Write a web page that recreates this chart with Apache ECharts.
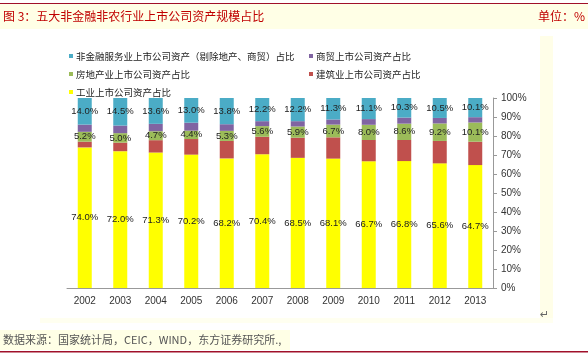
<!DOCTYPE html>
<html><head><meta charset="utf-8">
<script src="https://cdn.jsdelivr.net/npm/echarts@6/dist/echarts.min.js"></script>
<style>html,body{margin:0;padding:0;background:#fff}#c{width:588px;height:359px}</style>
</head><body><div id="c"></div>
<script>
const years = ['2002','2003','2004','2005','2006','2007','2008','2009','2010','2011','2012','2013'];
const industry = [74.0,72.0,71.3,70.2,68.2,70.4,68.5,68.1,66.7,66.8,65.6,64.7];
const construction = [3.0,4.5,6.5,8.2,9.2,9.2,10.6,11.2,11.2,11.1,11.8,12.3];
const realEstate = [5.2,5.0,4.7,4.4,5.3,5.6,5.9,6.7,8.0,8.6,9.2,10.1];
const trade = [3.8,4.0,3.9,4.2,3.5,2.6,2.8,2.7,3.0,3.2,2.9,2.8];
const services = [14.0,14.5,13.6,13.0,13.8,12.2,12.2,11.3,11.1,10.3,10.5,10.1];
const yTicks = ['0%','10%','20%','30%','40%','50%','60%','70%','80%','90%','100%'];

const names = {
  svc: '非金融服务业上市公司资产（剔除地产、商贸）占比',
  trade: '商贸上市公司资产占比',
  re: '房地产业上市公司资产占比',
  con: '建筑业上市公司资产占比',
  ind: '工业上市公司资产占比'
};
const FONT = '"Liberation Sans", "Noto Sans CJK SC", sans-serif';
const lbl = {show:true, position:'inside', fontSize:9.5, color:'#222', fontFamily:FONT,
  formatter: p => p.value.toFixed(1) + '%'};

const chart = echarts.init(document.getElementById('c'), null, {renderer:'canvas'});
chart.setOption({
  animation:false,
  backgroundColor:'#fff',
  graphic:[
    {type:'rect', shape:{x:0,y:3,width:588,height:1}, style:{fill:'#A0102A'}},
    {type:'rect', shape:{x:0,y:4,width:588,height:25}, style:{fill:'#FFFFE6'}},
    {type:'text', left:3, top:10, style:{text:'图 3：五大非金融非农行业上市公司资产规模占比', fill:'#C00000', font:'12px "Noto Sans CJK SC", sans-serif'}},
    {type:'text', right:3, top:10, style:{text:'单位：%', fill:'#C00000', font:'12px "Noto Sans CJK SC", sans-serif'}},
    {type:'rect', shape:{x:540,y:36,width:13,height:286}, style:{fill:'#FFFEE8'}},
    {type:'rect', shape:{x:40,y:318,width:513,height:5}, style:{fill:'#FFFFF0'}},
    {type:'text', left:540, top:310, style:{text:'↵', fill:'#666', font:'11px "DejaVu Sans", sans-serif'}},
    {type:'rect', shape:{x:0,y:330,width:290,height:20}, style:{fill:'#FFFFE6'}},
    {type:'text', left:3, top:334, style:{text:'数据来源：国家统计局，CEIC，WIND，东方证券研究所.,', fill:'#555', font:'11px "Noto Sans CJK SC", sans-serif'}},
    {type:'rect', shape:{x:0,y:351,width:588,height:1.5}, style:{fill:'#A0102A'}}
  ],
  legend:[
    {left:64, top:45, orient:'vertical', itemGap:6, itemWidth:4, itemHeight:4, icon:'rect',
     textStyle:{fontSize:9.5, color:'#222', fontFamily:'"Noto Sans CJK SC", sans-serif', padding:[0,0,0,-2], lineHeight:12},
     data:[names.svc, names.re, names.ind]},
    {left:304, top:45, orient:'vertical', itemGap:6, itemWidth:4, itemHeight:4, icon:'rect',
     textStyle:{fontSize:9.5, color:'#222', fontFamily:'"Noto Sans CJK SC", sans-serif', padding:[0,0,0,-2], lineHeight:12},
     data:[names.trade, names.con]}
  ],
  grid:{left:67, right:95, top:98, bottom:71},
  xAxis:{type:'category', data:years,
    axisLine:{lineStyle:{color:'#999'}}, axisTick:{lineStyle:{color:'#999'}, length:4},
    axisLabel:{fontSize:10, color:'#333', fontFamily:FONT, margin:8}},
  yAxis:{type:'value', position:'right', min:0, max:100, interval:10,
    splitLine:{show:false},
    axisLine:{show:true, lineStyle:{color:'#999'}}, axisTick:{show:true, length:4, lineStyle:{color:'#999'}},
    axisLabel:{fontSize:10, color:'#333', fontFamily:FONT, margin:8, formatter:(v)=>yTicks[Math.round(v/10)]}},
  series:[
    {name:names.ind, type:'bar', stack:'a', barWidth:14, data:industry, itemStyle:{color:'#FFFF00'}, label:lbl},
    {name:names.con, type:'bar', stack:'a', barWidth:14, data:construction, itemStyle:{color:'#C0504D'}},
    {name:names.re, type:'bar', stack:'a', barWidth:14, data:realEstate, itemStyle:{color:'#9BBB59'}, label:lbl},
    {name:names.trade, type:'bar', stack:'a', barWidth:14, data:trade, itemStyle:{color:'#8064A2'}},
    {name:names.svc, type:'bar', stack:'a', barWidth:14, data:services, itemStyle:{color:'#4BACC6'}, label:lbl}
  ]
});
</script></body></html>
